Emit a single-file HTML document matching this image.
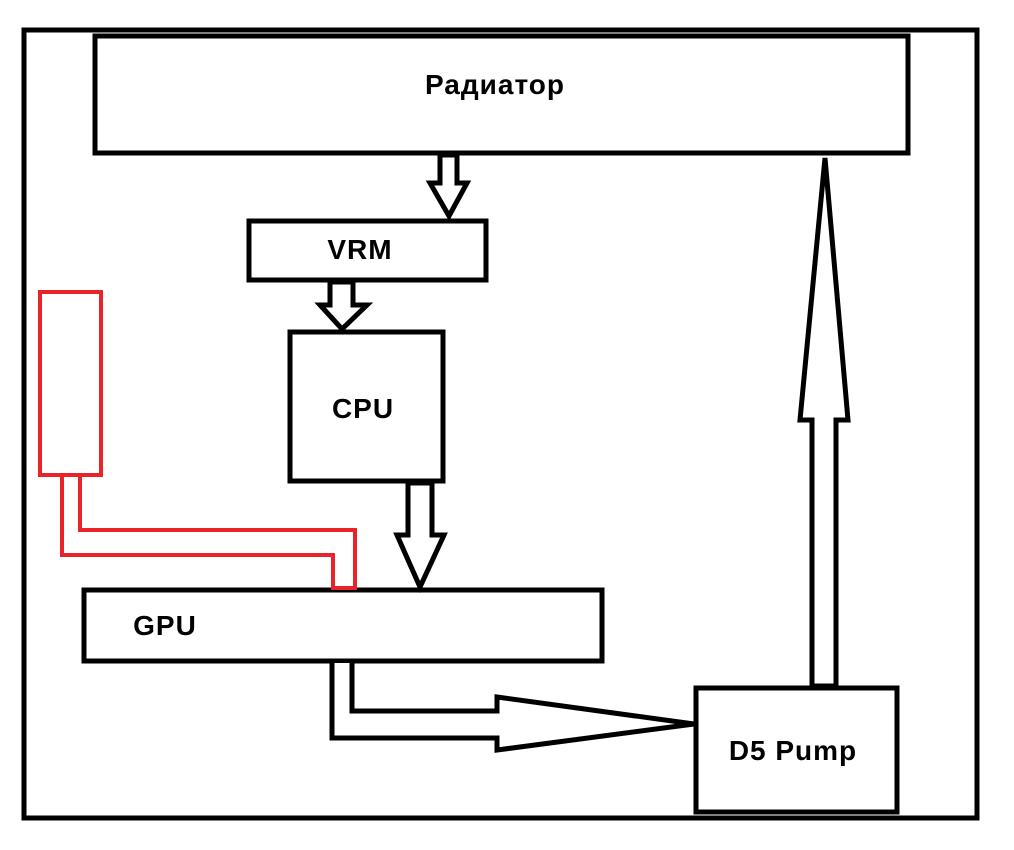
<!DOCTYPE html>
<html><head><meta charset="utf-8"><style>
html,body{margin:0;padding:0;background:#fff;}
svg{display:block}
text{font-family:"Liberation Sans","DejaVu Sans",sans-serif;font-weight:bold;font-size:28px;letter-spacing:1px;fill:#000}
</style></head><body>
<svg width="1014" height="850" viewBox="0 0 1014 850">
<g fill="#fff" stroke="#000" stroke-width="5" stroke-linejoin="miter">
<rect x="24" y="30" width="953" height="788"/>
<rect x="95" y="36" width="813" height="117"/>
<rect x="249" y="221" width="237" height="59"/>
<rect x="290" y="332" width="153" height="149"/>
<rect x="84" y="590" width="518" height="71"/>
<rect x="696" y="688" width="201" height="124"/>
<polygon points="440,155 457,155 457,183 467,183 449,216 430,183 440,183"/>
<polygon points="330,282 353,282 353,305 367,305 342,329 320,305 330,305"/>
<polygon points="408,483 432,483 432,535 444,535 420,587 397,535 408,535"/>
<polygon points="812,686 836,686 836,420 848,420 825,158 800,420 812,420"/>
<polyline points="332,663 332,738 497,738 497,750 694,724 497,697 497,711 352,711 352,663"/>
</g>
<g fill="none" stroke="#e8232a" stroke-width="4">
<rect x="40" y="292" width="61" height="183"/>
<polyline points="62,475 62,555 333,555 333,588 355,588 355,530 80,530 80,475"/>
</g>
<text x="495" y="94" text-anchor="middle">Радиатор</text>
<text x="360" y="259" text-anchor="middle">VRM</text>
<text x="363" y="418" text-anchor="middle">CPU</text>
<text x="165" y="635" text-anchor="middle">GPU</text>
<text x="793" y="760" text-anchor="middle">D5 Pump</text>
</svg>
</body></html>
